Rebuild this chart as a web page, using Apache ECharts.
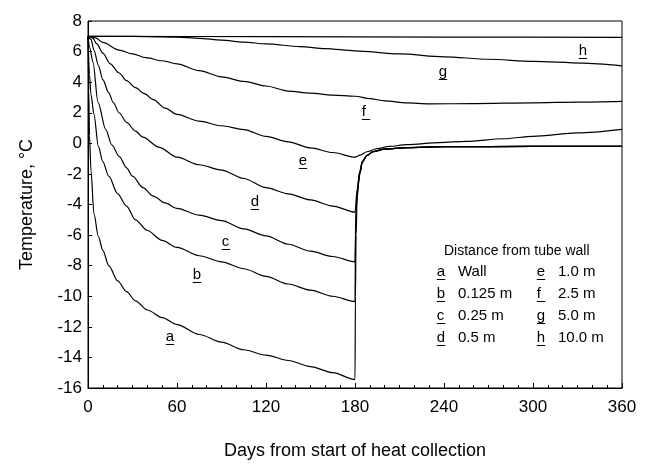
<!DOCTYPE html>
<html>
<head>
<meta charset="utf-8">
<script src="https://cdn.jsdelivr.net/npm/echarts@6/dist/echarts.min.js"></script>
<style>
html,body{margin:0;padding:0;background:#fff;}
#chart{width:652px;height:465px;}
</style>
</head>
<body>
<div id="chart"></div>
<script>
// ---- Data (days, temperature °C) ----
const curveA = [[0,7],[0.5,3.5],[1,0.5],[2,-1.8],[4,-4.6],[7,-6.1],[10,-7.0],[14,-8.0],[20,-9.0],[26,-9.7],[32,-10.3],[40,-10.9],[50,-11.4],[60,-11.85],[75,-12.5],[90,-13.0],[105,-13.5],[120,-13.85],[135,-14.2],[150,-14.6],[165,-15.0],[180,-15.45],
  [180.3,-10],[180.7,-6],[181.5,-3.5],[183,-2.0],[185,-1.2],[188,-0.8],[192,-0.55],[200,-0.38],[215,-0.28],[240,-0.22],[300,-0.2],[360,-0.2]];
const curveB = [[0,7],[1,4.5],[2,3.2],[4,1.9],[7,-0.2],[10,-1.2],[14,-2.15],[20,-3.3],[26,-4.1],[32,-5.0],[40,-5.7],[50,-6.35],[60,-6.8],[75,-7.35],[90,-7.75],[105,-8.2],[120,-8.7],[135,-9.2],[150,-9.6],[165,-10.0],[180,-10.35],
  [180.4,-6],[181,-4],[182,-2.8],[183.5,-1.9],[185,-1.2],[188,-0.8],[192,-0.55],[200,-0.38],[215,-0.28],[240,-0.22],[300,-0.2],[360,-0.2]];
const curveC = [[0,7],[1,6.3],[3.4,5.3],[6.7,2.7],[12,0.9],[16,-0.1],[21,-0.85],[26,-1.6],[30,-2.15],[37,-2.9],[44,-3.45],[52,-3.9],[60,-4.25],[75,-4.7],[90,-5.05],[105,-5.6],[120,-6.05],[135,-6.6],[150,-7.05],[165,-7.4],[180,-7.75],
  [180.6,-4.5],[181.5,-3.2],[183,-2.0],[185,-1.2],[188,-0.8],[192,-0.55],[200,-0.38],[215,-0.28],[240,-0.22],[300,-0.2],[360,-0.2]];
const curveD = [[0,7],[2,6.8],[4,6.1],[7,5.1],[10,4.16],[14,3.3],[17,2.67],[21,2.0],[26,1.37],[32,0.8],[37,0.4],[48,-0.26],[60,-0.9],[75,-1.4],[90,-1.75],[105,-2.3],[120,-2.9],[135,-3.3],[150,-3.7],[165,-4.1],[180,-4.5],
  [181.5,-3.0],[183,-1.9],[185,-1.2],[188,-0.8],[192,-0.55],[200,-0.38],[215,-0.28],[240,-0.22],[300,-0.2],[360,-0.2]];
const curveE = [[0,7],[3,6.9],[6,6.5],[10,5.9],[15,5.2],[21,4.6],[26,4.1],[32,3.64],[38,3.25],[44,2.86],[52,2.3],[60,1.9],[75,1.45],[90,1.15],[105,0.9],[120,0.45],[135,0.1],[150,-0.3],[165,-0.6],[180,-0.9],
  [184,-0.75],[188,-0.55],[195,-0.35],[203,-0.2],[215,-0.08],[237,0.05],[255,0.13],[280,0.3],[300,0.46],[330,0.68],[360,0.91]];
const curveF = [[0,7],[5,6.9],[10,6.6],[21,6.1],[30,5.85],[39,5.6],[50,5.4],[60,5.2],[75,4.75],[90,4.35],[105,4.05],[120,3.75],[135,3.42],[150,3.28],[165,3.15],[180,3.08],[190,2.92],[200,2.78],[215,2.64],[230,2.58],[260,2.6],[300,2.65],[330,2.7],[360,2.75]];
const curveG = [[0,7],[20,7.0],[40,6.98],[60,6.95],[75,6.87],[90,6.75],[105,6.62],[120,6.5],[143,6.33],[160,6.2],[180,6.05],[210,5.85],[240,5.66],[270,5.5],[300,5.36],[333,5.25],[360,5.07]];
const curveH = [[0,7],[120,6.98],[240,6.95],[360,6.93]];

const curveLetters = ['a','b','c','d','e','f','g','h'];
const legendTitle = 'Distance from tube wall';
const legendDistances = ['Wall','0.125 m','0.25 m','0.5 m','1.0 m','2.5 m','5.0 m','10.0 m'];
const xTicks = [0, 60, 120, 180, 240, 300, 360];
const yTicks = [-16,-14,-12,-10,-8,-6,-4,-2,0,2,4,6,8];

const allCurves = [curveA, curveB, curveC, curveD, curveE, curveF, curveG, curveH];

const FONT = '"Liberation Sans", Arial, sans-serif';
const chart = echarts.init(document.getElementById('chart'));

// Curve label positions (pixel annotations)
const curveLabelPos = [[170,338],[197,276],[226,243],[255,203],[303,162],[366,113],[443,73],[583,52]];

const graphics = [];
function underlinedText(letter, x, y, size) {
  const w = size * 0.56;
  graphics.push({type:'text', left:x - w/2, top:y - size/2 - 1, style:{text:letter, font: size+'px '+FONT, fill:'#000'}});
  const uy = Math.round(y + size*0.38) + 0.5;
  graphics.push({type:'line', shape:{x1:x - w/2, y1:uy, x2:x + w/2, y2:uy}, style:{stroke:'#000', lineWidth:1}});
}
curveLetters.forEach((l, i) => underlinedText(l, curveLabelPos[i][0], curveLabelPos[i][1], 15));

// Legend block
graphics.push({type:'text', left:444, top:244, style:{text:legendTitle, font:'14px '+FONT, fill:'#000'}});
const rowY = [273, 295, 317, 339];
for (let i = 0; i < 8; i++) {
  const col = i < 4 ? 0 : 1;
  const row = i % 4;
  const lx = col === 0 ? 441 : 541;
  underlinedText(curveLetters[i], lx, rowY[row], 15);
  graphics.push({type:'text', left:lx + 17, top:rowY[row] - 9, style:{text:legendDistances[i], font:'15px '+FONT, fill:'#000'}});
}

chart.setOption({
  backgroundColor:'#fff',
  animation:false,
  grid:{left:88, right:30, top:21, bottom:75, show:true, borderColor:'#000', borderWidth:1},
  xAxis:{
    type:'value', min:xTicks[0], max:xTicks[xTicks.length-1], interval:60,
    name:'Days from start of heat collection', nameLocation:'middle', nameGap:54,
    nameTextStyle:{fontSize:18, color:'#000', fontFamily:FONT},
    axisLine:{onZero:false, lineStyle:{color:'#000', width:1}},
    axisTick:{inside:true, length:5, lineStyle:{color:'#000'}},
    minorTick:{show:true, splitNumber:6, length:3, lineStyle:{color:'#000'}},
    axisLabel:{fontSize:17, color:'#000', margin:11, fontFamily:FONT},
    splitLine:{show:false}
  },
  yAxis:{
    type:'value', min:yTicks[0], max:yTicks[yTicks.length-1], interval:2,
    name:'Temperature, °C', nameLocation:'middle', nameGap:52, nameRotate:90,
    nameTextStyle:{fontSize:18, color:'#000', fontFamily:FONT},
    axisLine:{onZero:false, lineStyle:{color:'#000', width:1}},
    axisTick:{inside:true, length:4, lineStyle:{color:'#000'}},
    axisLabel:{fontSize:17, color:'#000', margin:6, fontFamily:FONT},
    splitLine:{show:false}
  },
  series: allCurves.map((c, i) => ({
    type:'line', name:curveLetters[i], data:c, showSymbol:false, symbol:'none',
    smooth:0.3, smoothMonotone:'x',
    lineStyle:{color:'#000', width:1.2}
  })),
  graphic: graphics
});
</script>
</body>
</html>
